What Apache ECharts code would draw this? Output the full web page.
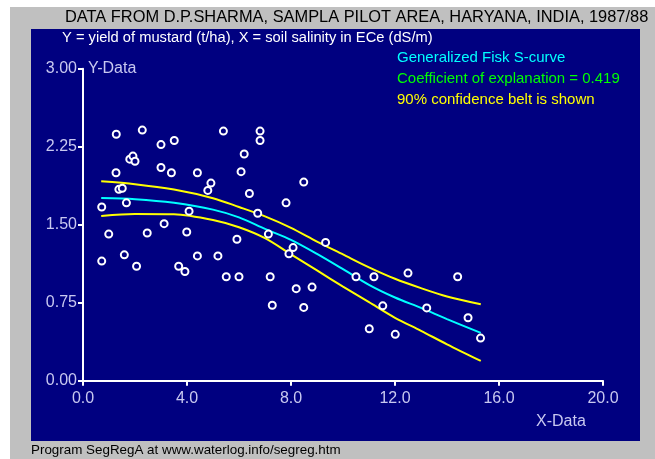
<!DOCTYPE html>
<html>
<head>
<meta charset="utf-8">
<script src="https://cdn.jsdelivr.net/npm/echarts@6/dist/echarts.min.js"></script>
<style>
  html, body { margin: 0; padding: 0; background: #fff; }
  #main { width: 655px; height: 459px; }
</style>
</head>
<body>
<div id="main"></div>
<script>
// measured points: soil salinity (dS/m) and mustard yield (t/ha)
var pointsX = [1.28, 2.28, 5.40, 3.00, 3.51, 1.80, 1.92, 2.00, 1.27, 3.00, 3.40, 4.40, 4.92, 4.80, 1.38, 1.51,
  0.72, 1.67, 4.08, 3.12, 0.99, 2.47, 3.99, 6.81, 6.81, 6.20, 6.08, 8.49, 6.40, 7.81, 6.72, 7.13, 5.92,
  0.72, 1.59, 2.06, 3.68, 3.92, 4.40, 5.19, 5.51, 8.08, 7.92, 9.33, 6.00, 7.20, 8.20, 8.81, 7.28, 8.49,
  10.50, 11.19, 11.01, 12.50, 14.41, 11.53, 13.22, 14.81, 15.29, 12.01];
var pointsY = [2.37, 2.41, 2.40, 2.27, 2.31, 2.13, 2.16, 2.11, 2.00, 2.05, 2.00, 2.00, 1.90, 1.83, 1.84, 1.85,
  1.67, 1.71, 1.63, 1.51, 1.41, 1.42, 1.43, 2.40, 2.31, 2.18, 2.01, 1.91, 1.80, 1.71, 1.61, 1.41, 1.36,
  1.15, 1.21, 1.10, 1.10, 1.05, 1.20, 1.20, 1.00, 1.28, 1.22, 1.33, 1.00, 1.00, 0.885, 0.90, 0.725, 0.705,
  1.00, 1.00, 0.50, 1.035, 1.00, 0.72, 0.70, 0.605, 0.41, 0.446];

// fitted S-curve and 90% confidence belt
var curveX = [0.7, 2, 3.5, 5, 6, 7, 8, 9, 10, 11, 12, 13, 14, 15.3];
var curveMid = [1.756, 1.745, 1.71, 1.645, 1.57, 1.46, 1.355, 1.22, 1.073, 0.922, 0.80, 0.70, 0.592, 0.46];
var curveUpper = [1.918, 1.89, 1.838, 1.755, 1.67, 1.58, 1.47, 1.338, 1.214, 1.09, 0.98, 0.89, 0.81, 0.735];
var curveLower = [1.584, 1.603, 1.60, 1.545, 1.475, 1.37, 1.215, 1.06, 0.905, 0.755, 0.605, 0.48, 0.35, 0.19];

var xTicks = [0, 4, 8, 12, 16, 20];
var yTicks = [0, 0.75, 1.5, 2.25, 3];

function pairs(xs, ys) {
  return xs.map(function (x, i) { return [x, ys[i]]; });
}

var myChart = echarts.init(document.getElementById('main'));
var labelColor = '#c8c8f0';
var font = 'Liberation Sans, Arial, sans-serif';

var option = {
  backgroundColor: '#ffffff',
  animation: false,
  textStyle: { fontFamily: font },
  grid: { left: 83, top: 68.7, right: 52, bottom: 78.3 },
  xAxis: {
    type: 'value',
    min: xTicks[0],
    max: xTicks[xTicks.length - 1],
    interval: 4,
    axisLine: { lineStyle: { color: '#ffffff', width: 2 } },
    axisTick: { show: true, length: 5, lineStyle: { color: '#ffffff', width: 2 } },
    axisLabel: { color: labelColor, fontSize: 16, margin: 10, fontFamily: font,
      formatter: function (v) { return v.toFixed(1); } },
    splitLine: { show: false }
  },
  yAxis: {
    type: 'value',
    min: yTicks[0],
    max: yTicks[yTicks.length - 1],
    interval: 0.75,
    axisLine: { show: true, lineStyle: { color: '#ffffff', width: 2 } },
    axisTick: { show: true, length: 5, lineStyle: { color: '#ffffff', width: 2 } },
    axisLabel: { color: labelColor, fontSize: 16, margin: 6, fontFamily: font,
      formatter: function (v) { return v.toFixed(2); } },
    splitLine: { show: false }
  },
  graphic: [
    { type: 'rect', z: -20, silent: true, shape: { x: 10, y: 7, width: 645, height: 452 }, style: { fill: '#c0c0c0' } },
    { type: 'rect', z: -10, silent: true, shape: { x: 31, y: 29, width: 609, height: 412 }, style: { fill: '#000080' } },
    { type: 'text', left: 65, top: 9, style: { text: 'DATA FROM D.P.SHARMA, SAMPLA PILOT AREA, HARYANA, INDIA, 1987/88',
      fill: '#000000', font: '16.4px ' + font } },
    { type: 'text', left: 62, top: 30, style: { text: 'Y = yield of mustard (t/ha), X = soil salinity in ECe (dS/m)',
      fill: '#ffffff', font: '14.7px ' + font } },
    { type: 'text', left: 397, top: 50, style: { text: 'Generalized Fisk S-curve', fill: '#00ffff', font: '15px ' + font } },
    { type: 'text', left: 397, top: 71, style: { text: 'Coefficient of explanation = 0.419', fill: '#00ff00', font: '15px ' + font } },
    { type: 'text', left: 397, top: 92, style: { text: '90% confidence belt is shown', fill: '#ffff00', font: '15px ' + font } },
    { type: 'text', left: 88, top: 61, style: { text: 'Y-Data', fill: labelColor, font: '16px ' + font } },
    { type: 'text', left: 536, top: 414, style: { text: 'X-Data', fill: labelColor, font: '16px ' + font } },
    { type: 'text', left: 31, top: 444, style: { text: 'Program SegRegA at www.waterlog.info/segreg.htm', fill: '#000000', font: '13.4px ' + font } }
  ],
  series: [
    {
      type: 'line', data: pairs(curveX, curveUpper), showSymbol: false, smooth: 0.3,
      lineStyle: { color: '#ffff00', width: 2 }, z: 3
    },
    {
      type: 'line', data: pairs(curveX, curveLower), showSymbol: false, smooth: 0.3,
      lineStyle: { color: '#ffff00', width: 2 }, z: 3
    },
    {
      type: 'line', data: pairs(curveX, curveMid), showSymbol: false, smooth: 0.3,
      lineStyle: { color: '#00ffff', width: 2 }, z: 3
    },
    {
      type: 'scatter', data: pairs(pointsX, pointsY), symbol: 'circle', symbolSize: 7,
      itemStyle: { color: '#000080', borderColor: '#ffffff', borderWidth: 2, opacity: 1 }, z: 4
    }
  ]
};

option && myChart.setOption(option);
</script>
</body>
</html>
